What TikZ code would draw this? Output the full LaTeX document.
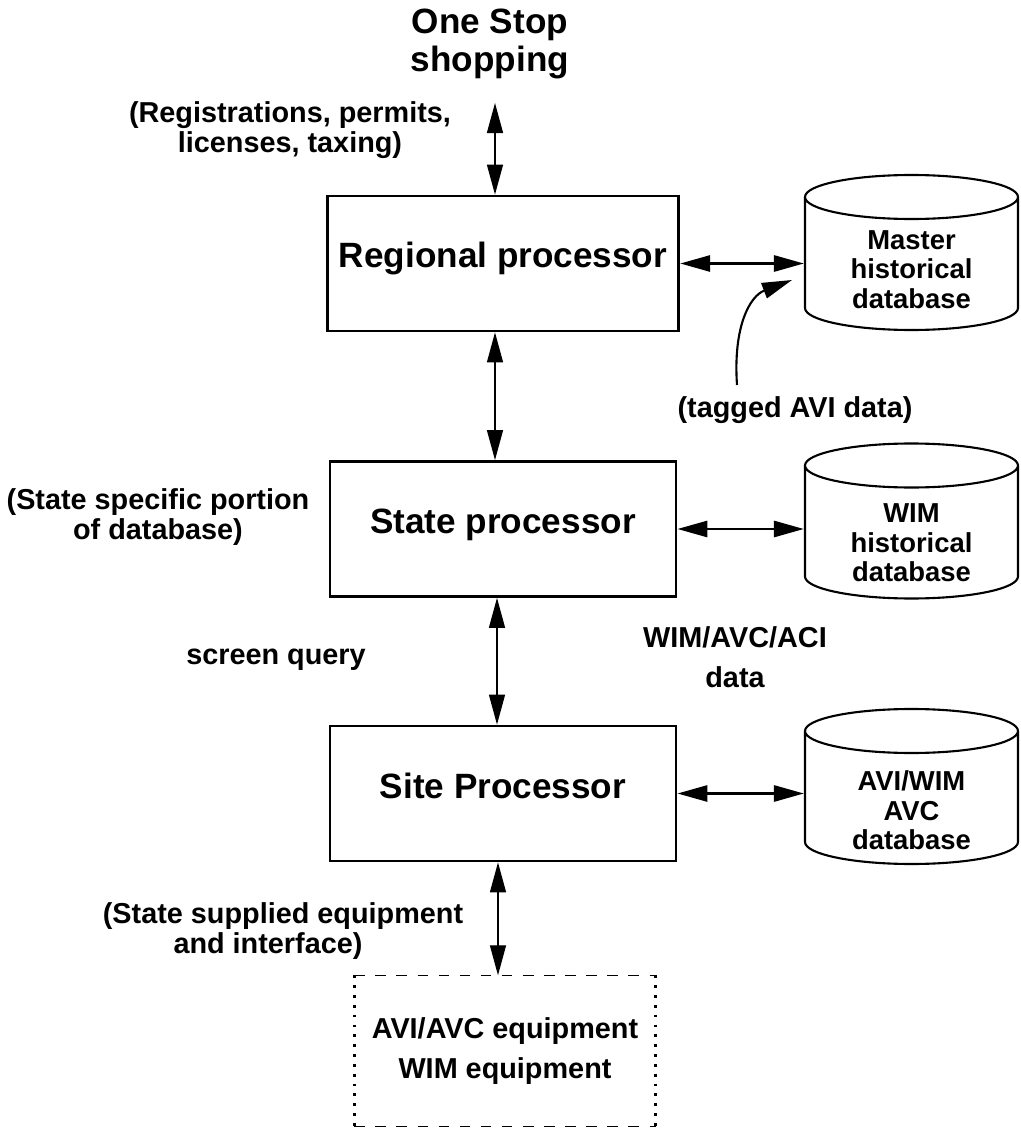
\documentclass[tikz,border=0pt]{standalone}
\usepackage{fontspec}
\setmainfont{Liberation Sans}
\usetikzlibrary{arrows.meta,shapes.geometric}

\begin{document}
\begin{tikzpicture}[
        proc/.style={draw, thick, minimum width=3.46cm, minimum height=1.35cm,
            text height=0.26cm, text depth=0.17cm, font=\fontsize{10}{12}\selectfont\bfseries},
        db/.style={cylinder, shape border rotate=90, draw, semithick, inner sep=0.1cm, aspect=2.2,
            minimum width=2.13cm, minimum height=1.55cm, anchor=shape center},
        dbtext/.style={align=center, inner sep=0pt, font=\fontsize{7.8}{8.4}\selectfont\bfseries},
        lbl/.style={align=center, font=\fontsize{8.2}{8.6}\selectfont\bfseries},
        link/.style={{Triangle[length=0.3cm,width=0.16cm]}-{Triangle[length=0.3cm,width=0.16cm]}},
    ]
        \useasboundingbox (0,0) rectangle (10.21,11.36);
        % Below nodes are the processors.
            \node[proc] (regional) at (5.03, 8.725) {Regional processor};
            \node[proc] (state) at (5.03, 6.07) {State processor};
            \node[proc] (site) at (5.03, 3.425) {Site Processor};
            \node[minimum width=3.0cm, minimum height=1.5cm, align=center,
                font=\fontsize{8.2}{11.6}\selectfont\bfseries] (equip) at (5.05, 0.85)
                {AVI/AVC equipment\\WIM equipment};
        % The databases, with their text put in the body.
            \node[db] (master) at (9.115, 8.835) {};
            \node[db] (wim) at (9.115, 6.15) {};
            \node[db] (avi) at (9.115, 3.495) {};
            \node[dbtext] (mastertext) at ([yshift=-0.17cm]master.shape center) {Master\\historical\\database};
            \node[dbtext] (wimtext) at ([yshift=-0.22cm]wim.shape center) {WIM\\historical\\database};
            \node[dbtext] (avitext) at ([yshift=-0.24cm]avi.shape center) {AVI/WIM\\AVC\\database};
        % Below nodes are the labels.
            \node[align=center, font=\fontsize{10}{10.8}\selectfont\bfseries] (onestop) at (4.90, 10.92) {One Stop\\shopping};
            \node[lbl] (regist) at (2.90, 10.06) {(Registrations, permits,\\licenses, taxing)};
            \node[lbl] (tagged) at (7.95, 7.26) {(tagged AVI data)};
            \node[lbl] (portion) at (1.58, 6.19) {(State specific portion\\of database)};
            \node[lbl] (query) at (2.76, 4.76) {screen query};
            \node[align=center, font=\fontsize{8.2}{11.4}\selectfont\bfseries] (wimdata) at (7.35, 4.79) {WIM/AVC/ACI\\data};
            \node[lbl] (supplied) at (2.83, 2.05) {(State supplied equipment\\and interface)\hspace*{0.3cm}};
        % The equipment box: dashed top and bottom, dotted sides.
            \draw[dashed] (equip.north west) -- (equip.north east);
            \draw[dashed] (equip.south west) -- (equip.south east);
            \draw[dotted, thick] (equip.north west) -- (equip.south west);
            \draw[dotted, thick] (equip.north east) -- (equip.south east);
        % Vertical links.
            \coordinate (shoptip) at (4.95, 10.33);
            \draw[link] (shoptip) -- (shoptip |- regional.north);
            \draw[link] ([xshift=-0.08cm]regional.south) -- ([xshift=-0.08cm]state.north);
            \draw[link] ([xshift=-0.06cm]state.south) -- ([xshift=-0.06cm]site.north);
            \draw[link] ([xshift=-0.05cm]site.south) -- ([xshift=-0.05cm]site.south |- equip.north);
        % Links to the databases.
            \draw[link, thick] (regional.east) -- (regional.east -| master.west);
            \draw[link, thick] (state.east) -- (state.east -| wim.west);
            \draw[link, thick] (site.east) -- (site.east -| avi.west);
        % This draws the tagged data arrow.
            \coordinate (tagstart) at (7.37, 7.51);
            \coordinate (tagend) at (7.92, 8.56);
            \draw[-{Triangle[length=0.3cm,width=0.16cm]}, semithick] (tagstart) .. controls (7.33, 8.1) and (7.5, 8.4) .. (tagend);
    \end{tikzpicture}
\end{document}
